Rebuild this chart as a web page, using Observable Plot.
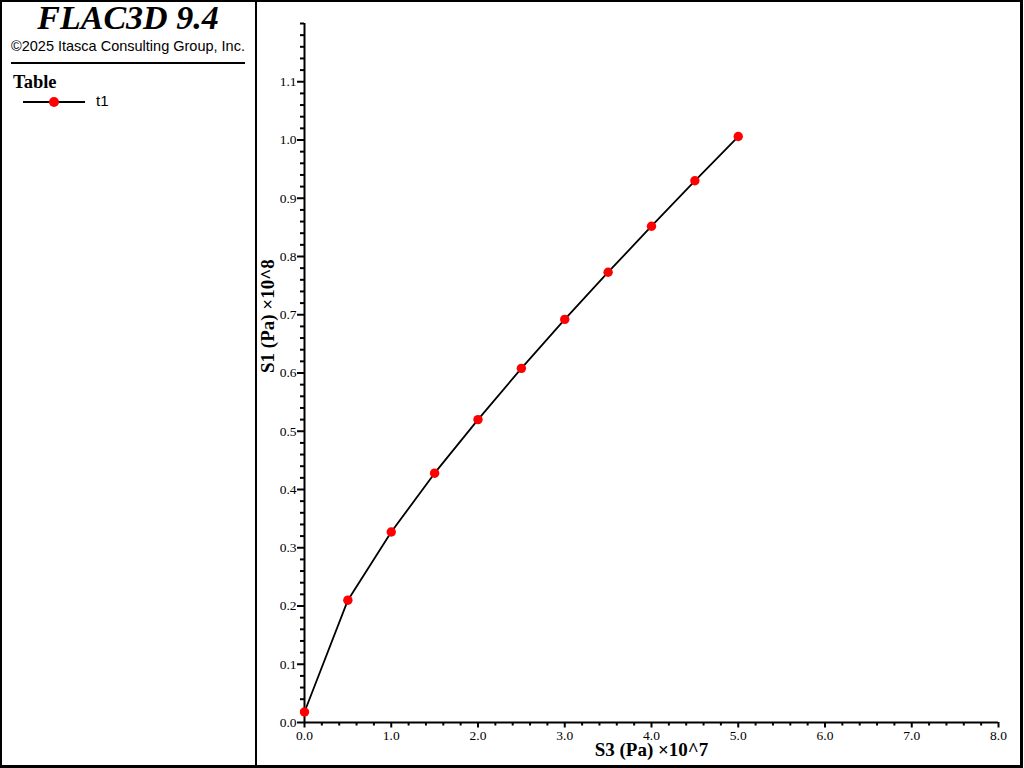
<!DOCTYPE html>
<html>
<head>
<meta charset="utf-8">
<script src="https://cdn.jsdelivr.net/npm/d3@7"></script>
<script src="https://cdn.jsdelivr.net/npm/@observablehq/plot@0.6"></script>
<style>
  html, body { margin: 0; padding: 0; background: #fff; }
  #wrap { position: relative; width: 1024px; height: 768px; overflow: hidden; }
  #chart { position: absolute; left: 0; top: 0; }
  .abs { position: absolute; white-space: nowrap; }
  #title { left: 0; width: 256px; top: 1px; line-height: 34px; text-align: center; font: italic bold 34px/34px "Liberation Serif", serif; }
  #copy { left: 11px; top: 38.5px; font: 14.5px/14.5px "Liberation Sans", Arial, sans-serif; }
  #rule { left: 11px; top: 62px; width: 234px; height: 2px; background: #000; }
  #tabletitle { left: 13px; top: 72.5px; font: bold 18.5px/18.5px "Liberation Serif", serif; }
  #legline { left: 23px; top: 100.5px; width: 62px; height: 2px; background: #000; }
  #legdot { left: 49px; top: 96.5px; width: 10px; height: 10px; border-radius: 50%; background: #ff0000; }
  #legtext { left: 96px; top: 93px; font: 15px/15px "Liberation Sans", Arial, sans-serif; }
  #border { left: 0; top: 0; width: 1018px; height: 763px; border: 2px solid #000; border-right-width: 3px; border-bottom-width: 3px; }
  #divider { left: 255px; top: 0; width: 2px; height: 768px; background: #000; }
</style>
</head>
<body>
<div id="wrap">
  <div id="chart"></div>
  <div class="abs" id="title">FLAC3D 9.4</div>
  <div class="abs" id="copy">©2025 Itasca Consulting Group, Inc.</div>
  <div class="abs" id="rule"></div>
  <div class="abs" id="tabletitle">Table</div>
  <div class="abs" id="legline"></div>
  <div class="abs" id="legdot"></div>
  <div class="abs" id="legtext">t1</div>
  <div class="abs" id="border"></div>
  <div class="abs" id="divider"></div>
</div>
<script>
// Data (S3 in units of 1e7 Pa, S1 in units of 1e8 Pa)
const s3 = [0.0, 0.5, 1.0, 1.5, 2.0, 2.5, 3.0, 3.5, 4.0, 4.5, 5.0];
const s1 = [0.018, 0.210, 0.327, 0.428, 0.520, 0.608, 0.692, 0.773, 0.852, 0.930, 1.006];

const xMajorTicks = [0, 1, 2, 3, 4, 5, 6, 7, 8];
const xMinorTicks = [0.2,0.4,0.6,0.8,1.2,1.4,1.6,1.8,2.2,2.4,2.6,2.8,3.2,3.4,3.6,3.8,4.2,4.4,4.6,4.8,5.2,5.4,5.6,5.8,6.2,6.4,6.6,6.8,7.2,7.4,7.6,7.8];
const yMajorTicks = [0.0, 0.1, 0.2, 0.3, 0.4, 0.5, 0.6, 0.7, 0.8, 0.9, 1.0, 1.1];
const yMinorTicks = [0.02,0.04,0.06,0.08,0.12,0.14,0.16,0.18,0.22,0.24,0.26,0.28,0.32,0.34,0.36,0.38,0.42,0.44,0.46,0.48,0.52,0.54,0.56,0.58,0.62,0.64,0.66,0.68,0.72,0.74,0.76,0.78,0.82,0.84,0.86,0.88,0.92,0.94,0.96,0.98,1.02,1.04,1.06,1.08,1.12,1.14,1.16,1.18,1.2];

const xLabel = "S3 (Pa) ×10^7";
const yLabel = "S1 (Pa) ×10^8";

const data = s3.map((x, i) => ({x, y: s1[i]}));

const chart = Plot.plot({
  width: 1024,
  height: 768,
  marginLeft: 304,
  marginRight: 26,
  marginTop: 23,
  marginBottom: 46,
  style: { fontFamily: "'Liberation Serif', 'Times New Roman', serif", fontSize: "13px", background: "transparent", overflow: "visible" },
  x: { domain: [0, 8] },
  y: { domain: [0, 1.2] },
  marks: [
    Plot.axisX({ ticks: xMinorTicks, tickSize: 3.5, tickFormat: () => "", strokeWidth: 2, label: null }),
    Plot.axisX({ ticks: xMajorTicks, tickSize: 5.5, tickPadding: 2.5, tickFormat: d => d.toFixed(1), strokeWidth: 2, fontSize: 13.5, fill: "#000", label: null }),
    Plot.axisY({ ticks: yMinorTicks, tickSize: 4, tickFormat: () => "", strokeWidth: 2, label: null }),
    Plot.axisY({ ticks: yMajorTicks, tickSize: 7, tickPadding: 1, tickFormat: d => d.toFixed(1), strokeWidth: 2, fontSize: 13.5, fill: "#000", label: null }),
    Plot.ruleY([0], { stroke: "#000", strokeWidth: 2 }),
    Plot.ruleX([0], { stroke: "#000", strokeWidth: 2 }),
    Plot.line(data, { x: "x", y: "y", stroke: "#000", strokeWidth: 1.8 }),
    Plot.dot(data, { x: "x", y: "y", r: 4.7, fill: "#ff0000", stroke: "none" }),
    Plot.text([xLabel], { frameAnchor: "bottom", dy: 33, fontWeight: "bold", fontSize: 19, fill: "#000", text: d => d }),
    Plot.text([yLabel], { frameAnchor: "left", dx: -36.5, rotate: -90, fontWeight: "bold", fontSize: 19, fill: "#000", text: d => d })
  ]
});
document.getElementById("chart").appendChild(chart);
</script>
</body>
</html>
